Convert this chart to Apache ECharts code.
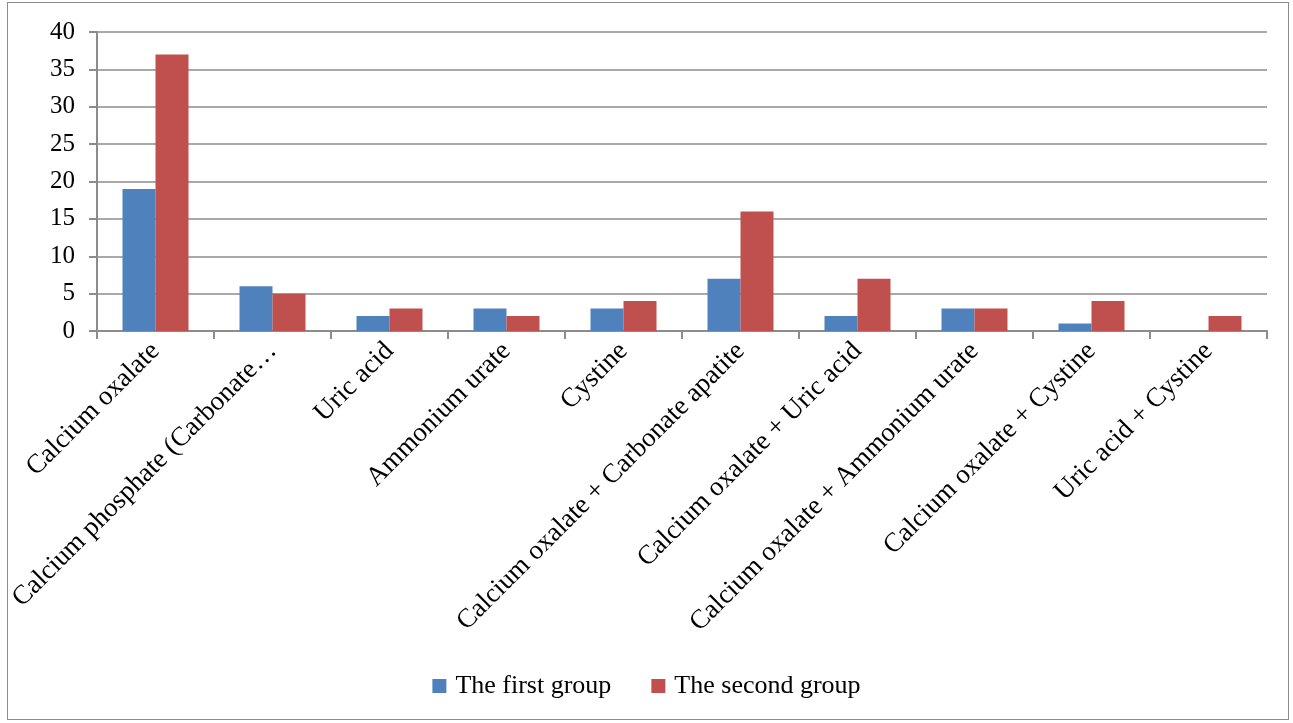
<!DOCTYPE html>
<html>
<head>
<meta charset="utf-8">
<script src="https://cdn.jsdelivr.net/npm/echarts@6/dist/echarts.min.js"></script>
<style>
  html, body { margin: 0; padding: 0; background: #fff; }
  #frame {
    position: absolute; left: 7px; top: 2px;
    width: 1282px; height: 718px;
    border: 1px solid #8c8c8c; box-sizing: border-box;
  }
  #chart { position: absolute; left: 0; top: 0; width: 1293px; height: 723px; }
</style>
</head>
<body>
<div id="frame"></div>
<div id="chart"></div>
<script>
// 数据
const categories = [
  'Calcium oxalate',
  'Calcium phosphate (Carbonate…',
  'Uric acid',
  'Ammonium urate',
  'Cystine',
  'Calcium oxalate + Carbonate apatite',
  'Calcium oxalate + Uric acid',
  'Calcium oxalate + Ammonium urate',
  'Calcium oxalate + Cystine',
  'Uric acid + Cystine'
]
const firstGroup = [19, 6, 2, 3, 3, 7, 2, 3, 1, 0]
const secondGroup = [37, 5, 3, 2, 4, 16, 7, 3, 4, 2]
const yTicks = [0, 5, 10, 15, 20, 25, 30, 35, 40]

const font = '"Liberation Serif", "Times New Roman", serif'
const axisGray = '#8c8c8c'

const chart = echarts.init(document.getElementById('chart'))
const option = {
  animation: false,
  textStyle: { fontFamily: font },
  grid: { left: 97, top: 32, right: 26, bottom: 392, containLabel: false },
  legend: {
    bottom: 19,
    left: 'center',
    icon: 'rect',
    itemWidth: 14,
    itemHeight: 14,
    itemGap: 40,
    textStyle: { fontFamily: font, fontSize: 26, color: '#000', padding: [0, 0, 0, 4] },
    data: ['The first group', 'The second group']
  },
  xAxis: {
    type: 'category',
    data: categories,
    axisLine: { lineStyle: { color: axisGray, width: 2 } },
    axisTick: { show: true, length: 8, interval: 0, lineStyle: { color: axisGray, width: 2 } },
    axisLabel: {
      interval: 0,
      rotate: 45,
      margin: 16,
      fontFamily: font,
      fontSize: 27,
      color: '#000'
    }
  },
  yAxis: {
    type: 'value',
    min: yTicks[0],
    max: yTicks[yTicks.length - 1],
    interval: 5,
    axisLine: { show: true, lineStyle: { color: axisGray, width: 2 } },
    axisTick: { show: true, length: 8, lineStyle: { color: axisGray, width: 2 } },
    axisLabel: { margin: 22, fontFamily: font, fontSize: 25, color: '#000' },
    splitLine: { show: true, lineStyle: { color: axisGray, width: 1.5 } }
  },
  series: [
    {
      name: 'The first group',
      type: 'bar',
      data: firstGroup,
      barWidth: 33,
      barGap: '0%',
      itemStyle: { color: '#4f81bd' }
    },
    {
      name: 'The second group',
      type: 'bar',
      data: secondGroup,
      barWidth: 33,
      barGap: '0%',
      itemStyle: { color: '#c0504d' }
    }
  ]
}
chart.setOption(option)
</script>
</body>
</html>
